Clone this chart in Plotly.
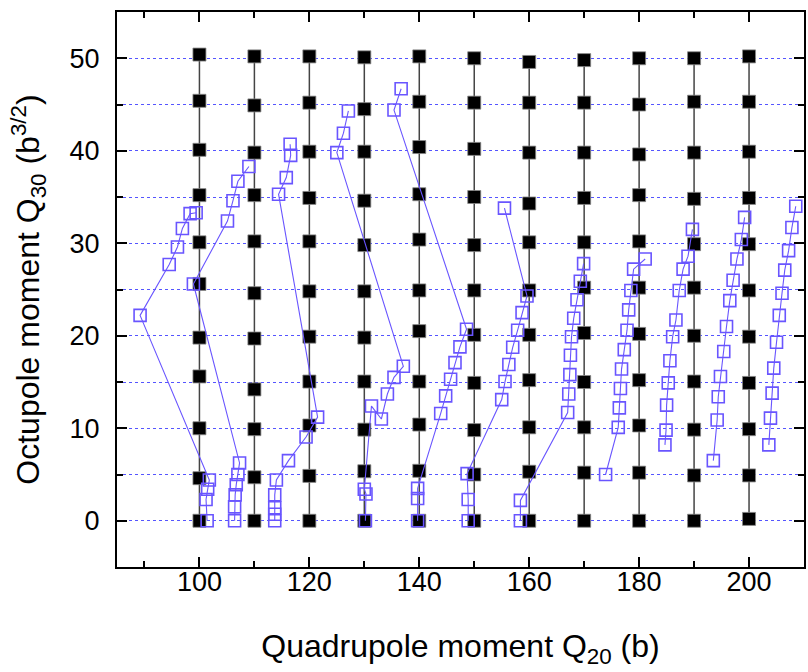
import plotly.graph_objects as go

# ---- black constrained grid (columns of fixed Q20) ----
grid_q20 = [100, 110, 120, 130, 140, 150, 160, 170, 180, 190, 200]
col100_q30 = [50.4, 45.4, 40.1, 35.2, 30.1, 25.6, 19.8, 15.6, 10.0, 4.6, 0.0]
col110_q30 = [50.2, 44.9, 39.8, 35.2, 30.2, 24.6, 19.7, 14.2, 9.9, 4.7, 0.0]
col120_q30 = [50.2, 45.2, 39.9, 34.9, 30.2, 24.8, 19.9, 15.05, 10.3, 4.85, 0.0]
col130_q30 = [50.1, 44.5, 39.9, 34.6, 29.8, 24.8, 19.8, 15.05, 9.85, 5.35, 0.0]
col140_q30 = [50.2, 45.3, 40.4, 35.3, 30.4, 24.9, 20.5, 15.05, 10.4, 5.4, 0.0]
col150_q30 = [50.0, 45.2, 40.2, 35.0, 29.8, 24.9, 20.1, 14.9, 9.8, 5.0, 0.0]
col160_q30 = [49.6, 45.2, 39.8, 34.3, 30.1, 24.9, 20.1, 15.2, 10.1, 5.3, 0.0]
col170_q30 = [49.8, 45.2, 39.8, 34.9, 30.1, 25.2, 20.3, 15.0, 10.1, 5.2, 0.0]
col180_q30 = [50.0, 45.0, 39.6, 35.2, 30.2, 25.2, 20.2, 15.2, 10.3, 5.2, 0.0]
col190_q30 = [50.0, 45.3, 39.8, 34.8, 29.9, 25.2, 20.0, 15.05, 9.85, 4.9, 0.0]
col200_q30 = [50.2, 45.3, 39.9, 34.9, 29.9, 24.9, 19.9, 14.9, 9.9, 4.9, 0.2]
grid_cols = [col100_q30, col110_q30, col120_q30, col130_q30, col140_q30, col150_q30,
             col160_q30, col170_q30, col180_q30, col190_q30, col200_q30]

# ---- blue open-square paths ----
pathA_q20 = [101.4, 101.2, 101.5, 101.8, 89.2, 94.5, 96.0, 96.9, 98.3, 99.4]
pathA_q30 = [0.0, 2.3, 3.4, 4.4, 22.2, 27.7, 29.6, 31.6, 33.2, 33.3]
pathB_q20 = [106.4, 106.4, 106.5, 106.7, 107.0, 107.3, 98.9, 105.1, 106.1, 107.0, 109.0]
pathB_q30 = [0.0, 1.5, 2.8, 3.9, 5.0, 6.25, 25.6, 32.4, 34.6, 36.7, 38.3]
pathC_q20 = [113.7, 113.7, 113.7, 113.7, 114.0, 116.2, 119.4, 121.5, 114.4, 115.8, 116.6, 116.5]
pathC_q30 = [0.0, 0.7, 1.4, 2.8, 4.4, 6.5, 9.05, 11.2, 35.3, 37.1, 39.5, 40.7]
pathD_q20 = [130.2, 130.3, 130.0, 131.3, 133.1, 134.2, 135.4, 137.1, 125.0, 126.2, 127.1]
pathD_q30 = [0.0, 2.9, 3.4, 12.4, 11.0, 13.7, 15.5, 16.7, 39.8, 41.9, 44.3]
pathE_q20 = [139.7, 139.7, 139.7, 143.9, 144.8, 145.7, 146.5, 147.4, 148.6, 135.4, 136.7]
pathE_q30 = [0.0, 2.4, 3.5, 11.6, 13.5, 15.3, 17.1, 18.8, 20.7, 44.4, 46.7]
pathF_q20 = [148.9, 148.9, 148.7, 155.0, 155.6, 156.3, 157.0, 157.9, 158.7, 159.6, 155.5]
pathF_q30 = [0.0, 2.3, 5.1, 13.1, 15.05, 16.9, 18.75, 20.6, 22.5, 24.3, 33.8]
pathG_q20 = [158.4, 158.4, 167.0, 167.2, 167.4, 167.5, 167.7, 168.1, 168.7, 169.3, 169.9]
pathG_q30 = [0.0, 2.2, 11.7, 13.7, 15.8, 17.9, 19.9, 21.9, 23.9, 25.9, 27.8]
pathH_q20 = [173.9, 176.2, 176.4, 176.6, 176.8, 177.3, 177.8, 178.1, 178.5, 179.0, 181.1]
pathH_q30 = [5.0, 10.1, 12.2, 14.3, 16.4, 18.5, 20.6, 22.8, 24.9, 27.2, 28.3]
pathI_q20 = [184.7, 184.9, 185.0, 185.3, 185.6, 186.1, 186.7, 187.3, 188.0, 188.9, 189.7]
pathI_q30 = [8.2, 9.8, 12.5, 14.9, 17.3, 19.9, 21.7, 24.9, 27.2, 28.6, 31.5]
pathJ_q20 = [193.5, 194.2, 194.4, 194.8, 195.4, 195.9, 196.5, 197.1, 197.8, 198.6, 199.2]
pathJ_q30 = [6.5, 10.9, 13.4, 15.6, 18.3, 21.0, 23.8, 26.0, 28.3, 30.4, 32.8]
pathK_q20 = [203.6, 203.9, 204.2, 204.5, 205.0, 205.5, 206.0, 206.5, 207.2, 207.8, 208.5]
pathK_q30 = [8.2, 11.1, 13.8, 16.5, 19.3, 22.2, 24.6, 27.1, 29.2, 31.7, 34.0]

blue_paths = [(pathA_q20, pathA_q30), (pathB_q20, pathB_q30), (pathC_q20, pathC_q30),
              (pathD_q20, pathD_q30), (pathE_q20, pathE_q30), (pathF_q20, pathF_q30),
              (pathG_q20, pathG_q30), (pathH_q20, pathH_q30), (pathI_q20, pathI_q30),
              (pathJ_q20, pathJ_q30), (pathK_q20, pathK_q30)]

BLUE = "rgb(105,85,255)"
GRID = "rgb(85,85,255)"
FONT = "Liberation Sans, Arial, sans-serif"

fig = go.Figure()

for q20, col in zip(grid_q20, grid_cols):
    fig.add_trace(go.Scatter(
        x=[q20] * len(col), y=col, mode="lines+markers",
        line=dict(color="#444444", width=1.5),
        marker=dict(symbol="square", size=13, color="black",
                    line=dict(color="#888888", width=0.8)),
        showlegend=False, hoverinfo="skip"))

for px, py in blue_paths:
    fig.add_trace(go.Scatter(
        x=px, y=py, mode="lines+markers",
        line=dict(color=BLUE, width=1.1),
        marker=dict(symbol="square-open", size=12, color=BLUE,
                    line=dict(color=BLUE, width=1.6)),
        showlegend=False, hoverinfo="skip"))

axis_common = dict(
    showline=True, linecolor="black", linewidth=2, mirror="ticks",
    ticks="inside", ticklen=10, tickwidth=2, tickcolor="black",
    tickfont=dict(family=FONT, size=27, color="black"),
    zeroline=False,
)

fig.update_xaxes(
    **axis_common, range=[85, 210], tick0=100, dtick=20, showgrid=False,
    ticklabelstandoff=-10,
    minor=dict(dtick=10, tick0=90, ticks="inside", ticklen=6, tickwidth=2,
               tickcolor="black", showgrid=False),
    title=dict(text="Quadrupole moment Q<sub>20</sub> (b)",
               font=dict(family=FONT, size=32, color="black"), standoff=38),
)
fig.update_yaxes(
    **axis_common, range=[-5, 55], tick0=0, dtick=10,
    showgrid=True, gridcolor=GRID, griddash="dot", gridwidth=1.2,
    ticklabelstandoff=10,
    minor=dict(dtick=5, tick0=0, ticks="inside", ticklen=6, tickwidth=2,
               tickcolor="black", showgrid=True, gridcolor=GRID,
               griddash="dot", gridwidth=1.2),
    title=dict(text="Octupole moment Q<sub>30</sub> (b<sup>3/2</sup>)",
               font=dict(family=FONT, size=32, color="black"), standoff=20),
)

fig.update_layout(
    width=808, height=672,
    margin=dict(l=117, r=2, t=12, b=105),
    paper_bgcolor="white", plot_bgcolor="white",
)

fig.write_html("out.html")
